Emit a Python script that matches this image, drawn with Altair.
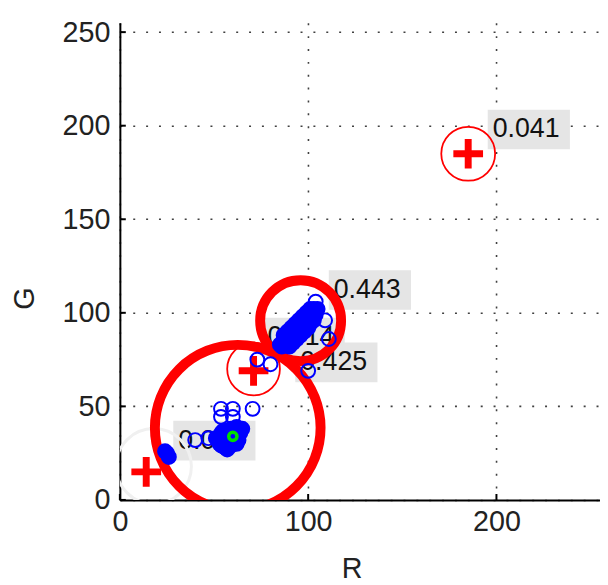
import altair as alt
import pandas as pd

# ---------------- data ----------------
x_ticks = [0, 100, 200]
y_ticks = [0, 50, 100, 150, 200, 250]

# dense blue samples (overlapping circles that read as solid blobs)
blue_core_x = [86, 87, 88, 88, 89, 90, 90, 91, 92, 92, 93, 94, 94, 95, 96, 96, 97, 98, 98, 99,
               100, 100, 101, 102, 102, 103, 104, 104, 105, 103, 101, 99, 97, 95, 93, 91, 89, 87, 85,
               90, 92, 94, 96, 98, 100, 102, 91, 93, 95, 97, 99, 101, 103,
               87, 89, 91, 93, 95, 97, 99, 101, 90, 92, 94, 96, 98, 100,
               52, 53, 53, 54, 54, 55, 55, 56, 56, 57, 57, 58, 58, 59, 59, 60, 60, 61, 61, 62, 62,
               63, 63, 64, 62, 59, 55, 57, 51, 65,
               25, 26, 24]
blue_core_y = [82, 84, 83, 85, 86, 85, 87, 88, 87, 89, 90, 89, 91, 92, 91, 93, 94, 93, 95, 96,
               95, 97, 98, 97, 99, 100, 99, 101, 102, 102, 100, 98, 96, 94, 92, 90, 88, 86, 83,
               89, 91, 93, 95, 97, 99, 101, 84, 86, 88, 90, 92, 94, 96,
               88, 90, 92, 94, 96, 98, 100, 102, 82, 84, 86, 88, 90, 92,
               32, 30, 34, 29, 36, 31, 33, 28, 35, 30, 37, 32, 34, 29, 36, 31, 38, 33, 35, 30, 37,
               32, 34, 36, 39, 38, 37, 27, 33, 38,
               25, 23, 26]

# scattered blue samples (open circles)
blue_open_x = [104, 109, 111, 100, 73, 80, 40, 47, 53.7, 60, 53.7, 60, 70.5]
blue_open_y = [106, 96, 86, 69, 75, 72.5, 32, 33, 48.7, 48.7, 44.4, 44.4, 48.7]

green_x = [60]
green_y = [34]

plus_x = [185, 71, 14]
plus_y = [185, 69, 15]

thin_cx = [185, 71]
thin_cy = [185, 70]
thin_r = [14.3, 14]

faint_cx = [18]
faint_cy = [18]
faint_r = [20]

thick_cx = [62.6, 96]
thick_cy = [38.6, 95.8]
thick_r = [44, 21.5]

label_text = ["0.077", "0.014", "0.425", "0.443", "0.041"]
label_x = [31, 78.4, 95.8, 113.6, 198]
label_y = [31.7, 86.8, 73.5, 112.2, 198]

# ---------------- chart ----------------
W, H = 485, 482
DOM = [0, 255]
PX = W / (DOM[1] - DOM[0])
FONT = "Liberation Sans"

xscale = alt.Scale(domain=DOM, nice=False, zero=False)
yscale = alt.Scale(domain=DOM, nice=False, zero=False)
rscale = alt.Scale(type="pow", exponent=2, domain=[0, 100], range=[0, (200 * PX) ** 2])

xaxis = alt.Axis(values=x_ticks, grid=True, gridDash=[2, 11], gridColor="#000000",
                 gridWidth=1.6, gridOpacity=0.75, domainColor="#000000", domainWidth=2,
                 ticks=False, labelFontSize=29, labelFont=FONT, labelColor="#222222",
                 labelPadding=8, labelFlush=False, title="R", titleFont=FONT, titleFontSize=29,
                 titleFontWeight="normal", titleColor="#222222", titleX=234, titleY=69,
                 titleAlign="center", titleBaseline="middle")
yaxis = alt.Axis(values=y_ticks, grid=True, gridDash=[2, 11], gridColor="#000000",
                 gridWidth=1.6, gridOpacity=0.75, domainColor="#000000", domainWidth=2,
                 ticks=False, labelFontSize=29, labelFont=FONT, labelColor="#222222",
                 labelPadding=10, labelFlush=False, title="G", titleFont=FONT, titleFontSize=29,
                 titleFontWeight="normal", titleColor="#222222", titleX=-96, titleY=278,
                 titleAlign="center", titleBaseline="middle")


def X(f):
    return alt.X(f, type="quantitative", scale=xscale, axis=xaxis)


def Y(f):
    return alt.Y(f, type="quantitative", scale=yscale, axis=yaxis)


core = pd.DataFrame({"x": blue_core_x, "y": blue_core_y})
scatter = pd.DataFrame({"x": blue_open_x, "y": blue_open_y})
green = pd.DataFrame({"x": green_x, "y": green_y})
plus = pd.DataFrame({"x": plus_x, "y": plus_y})
thin = pd.DataFrame({"x": thin_cx, "y": thin_cy, "r": thin_r})
faint = pd.DataFrame({"x": faint_cx, "y": faint_cy, "r": faint_r})
thick = pd.DataFrame({"x": thick_cx, "y": thick_cy, "r": thick_r})
labels = pd.DataFrame({"x": label_x, "y": label_y, "t": label_text})
yt = pd.DataFrame({"v": y_ticks})
xt = pd.DataFrame({"v": x_ticks})

ytick_layer = alt.Chart(yt).mark_rule(color="#000000", strokeWidth=2).encode(
    y=Y("v"), x=alt.value(0), x2=alt.value(6))
xtick_layer = alt.Chart(xt).mark_rule(color="#000000", strokeWidth=2).encode(
    x=X("v"), y=alt.value(H), y2=alt.value(H - 6))

box_layer = alt.Chart(labels).mark_point(
    shape="M-0.5,-2H7.8V2H-0.5Z", filled=True, fill="#e5e5e5", fillOpacity=1,
    strokeWidth=0, size=400, clip=True).encode(x=X("x"), y=Y("y"))
text_layer = alt.Chart(labels).mark_text(
    align="left", baseline="middle", font=FONT, fontSize=27, color="#111111").encode(
    x=X("x"), y=Y("y"), text="t:N")

faint_layer = alt.Chart(faint).mark_point(
    shape="circle", filled=False, color="#f0f0f0", strokeWidth=3, opacity=1, clip=True).encode(
    x=X("x"), y=Y("y"), size=alt.Size("r:Q", scale=rscale, legend=None))
thin_layer = alt.Chart(thin).mark_point(
    shape="circle", filled=False, color="#ff0000", strokeWidth=1.8, opacity=1, clip=True).encode(
    x=X("x"), y=Y("y"), size=alt.Size("r:Q", scale=rscale, legend=None))
thick_layer = alt.Chart(thick).mark_point(
    shape="circle", filled=False, color="#ff0000", strokeWidth=10, opacity=1, clip=True).encode(
    x=X("x"), y=Y("y"), size=alt.Size("r:Q", scale=rscale, legend=None))
plus_layer = alt.Chart(plus).mark_point(
    shape="M-1,0L1,0M0,-1L0,1", filled=False, color="#ff0000", strokeWidth=7,
    size=900, opacity=1, clip=True).encode(x=X("x"), y=Y("y"))
core_layer = alt.Chart(core).mark_point(
    shape="circle", filled=True, color="#0000ff", stroke="#0000ff", strokeWidth=2, size=200,
    opacity=1, clip=True).encode(x=X("x"), y=Y("y"))
open_layer = alt.Chart(scatter).mark_point(
    shape="circle", filled=False, color="#0000ff", strokeWidth=2, size=196,
    opacity=1, clip=True).encode(x=X("x"), y=Y("y"))
green_layer = alt.Chart(green).mark_point(
    shape="circle", filled=False, color="#00dd00", strokeWidth=3.5, size=70,
    opacity=1, clip=True).encode(x=X("x"), y=Y("y"))

chart = alt.layer(
    box_layer, text_layer, faint_layer, thin_layer, thick_layer, plus_layer,
    open_layer, core_layer, green_layer, ytick_layer, xtick_layer
).properties(
    width=W, height=H,
    autosize=alt.AutoSizeParams(type="none"),
    padding={"left": 113, "top": 12, "right": 0, "bottom": 83},
    background="#ffffff",
).configure_view(strokeWidth=0)

chart.save("out.html", embed_options={"renderer": "svg", "actions": False})
